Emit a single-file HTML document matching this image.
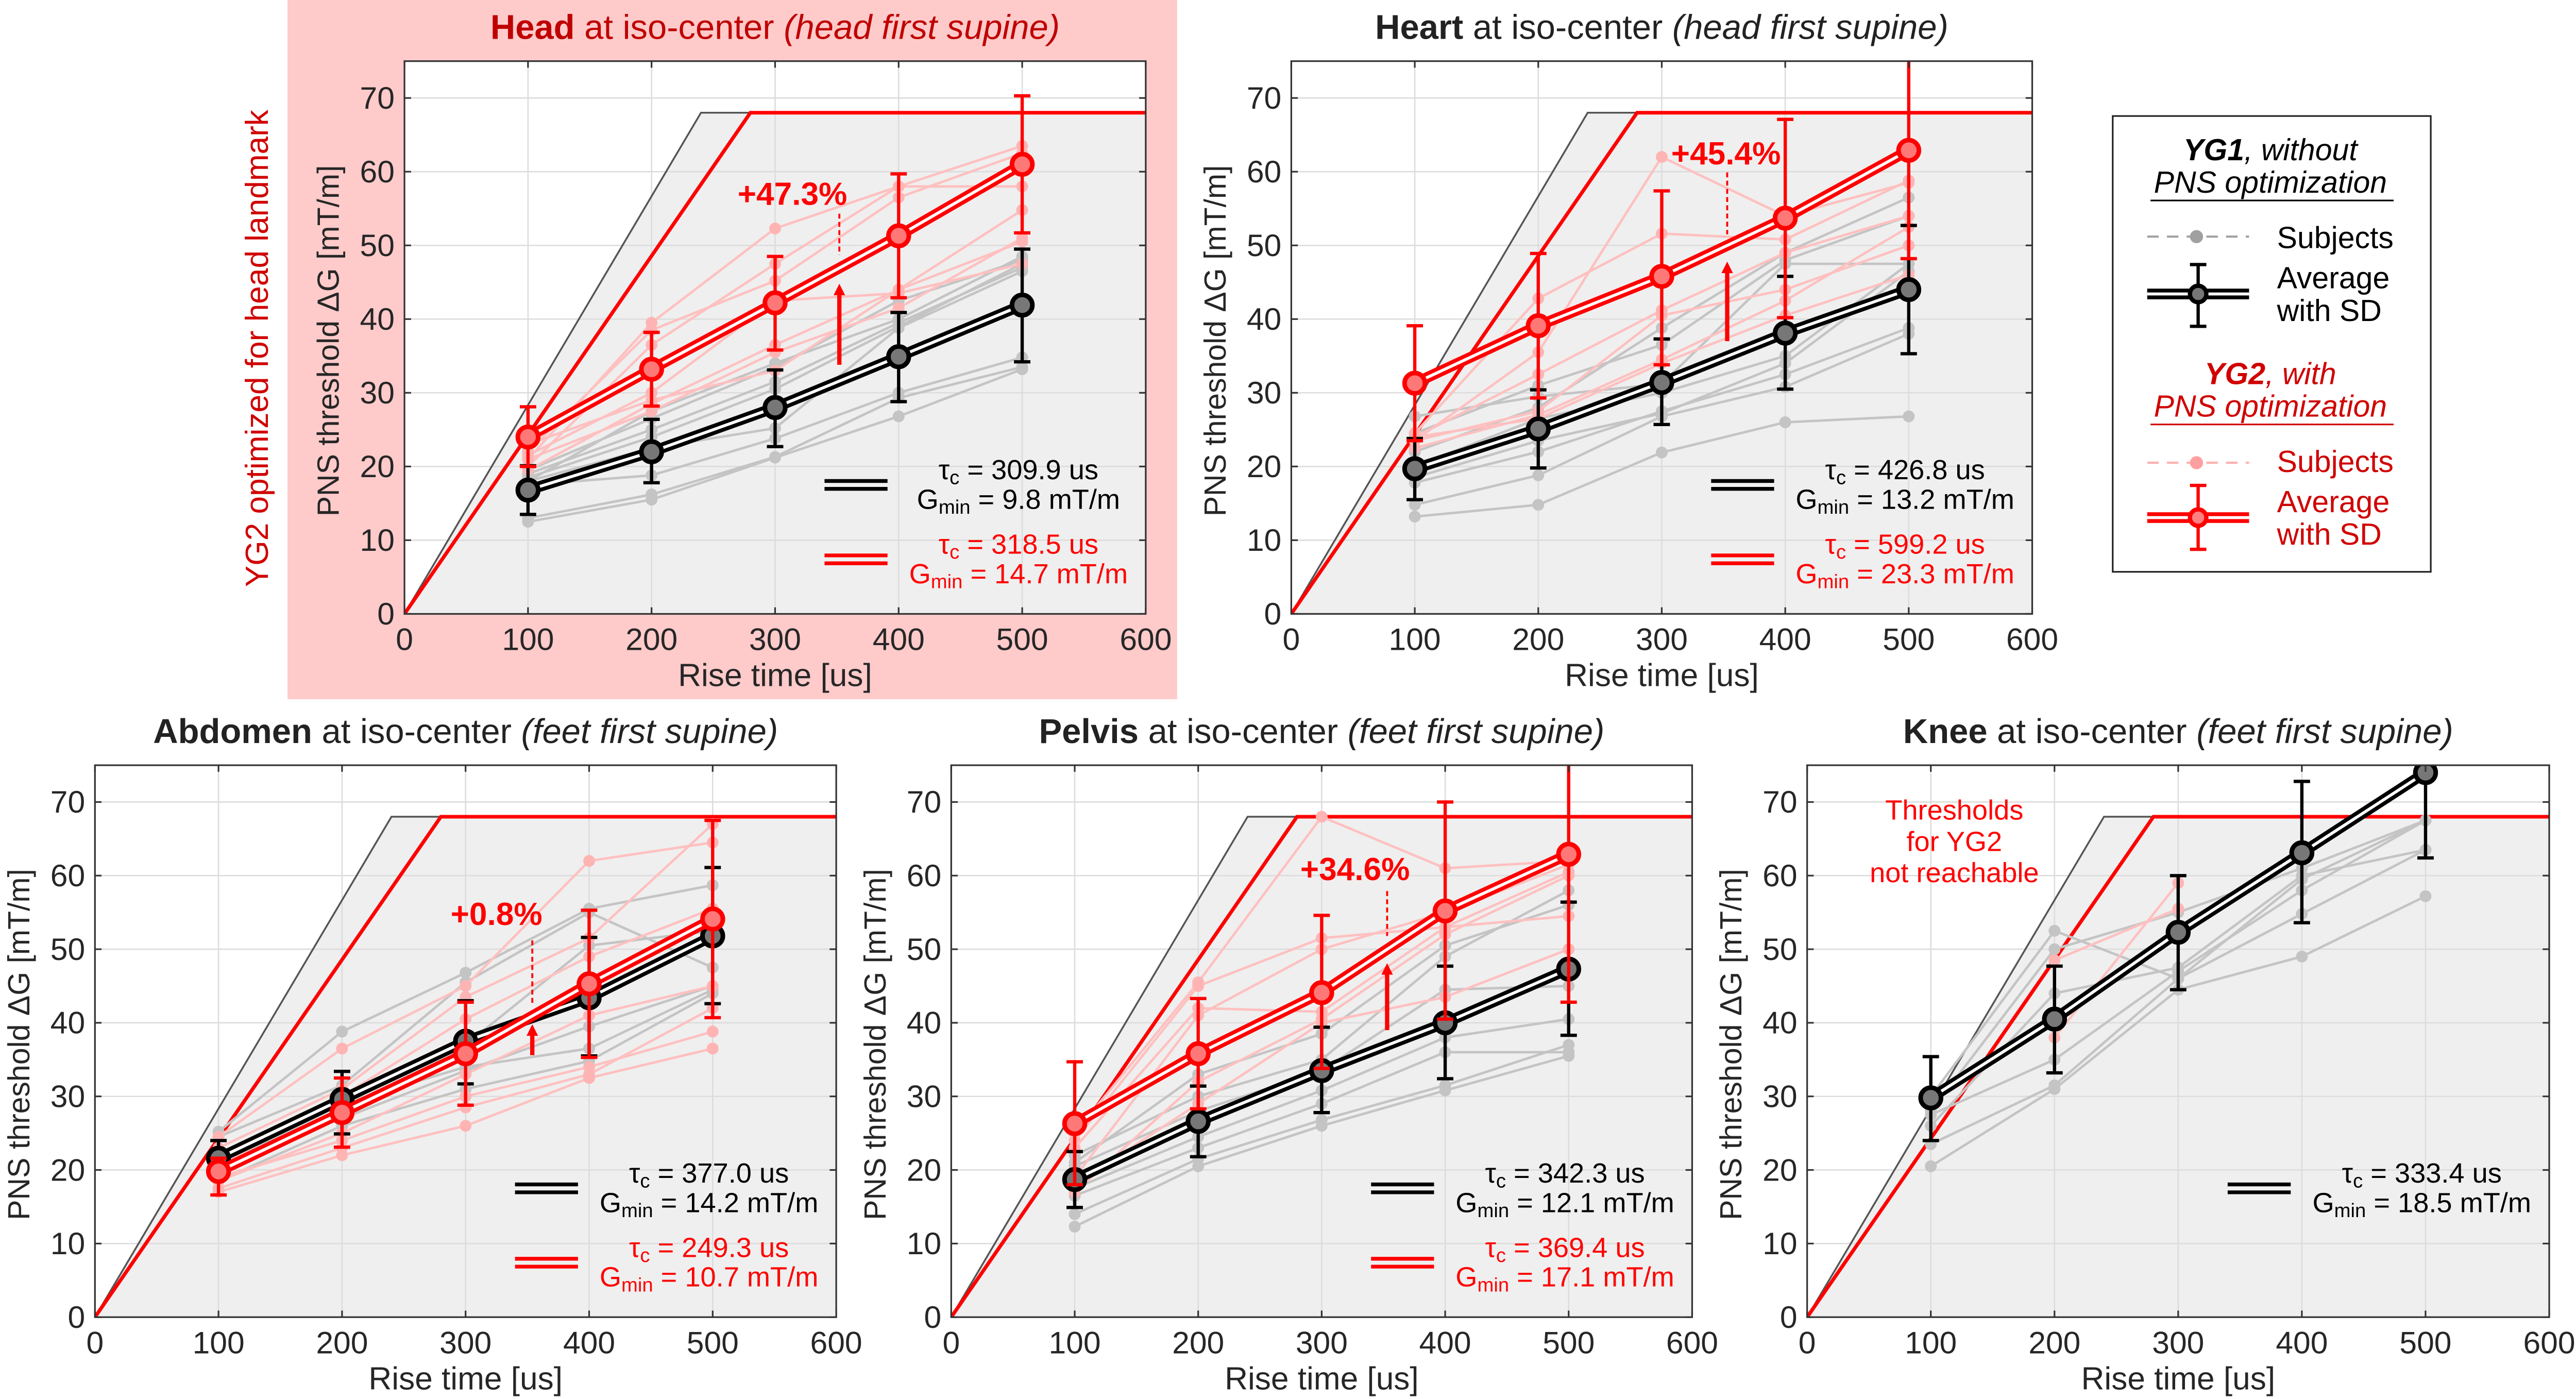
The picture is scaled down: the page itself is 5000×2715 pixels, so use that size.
<!DOCTYPE html>
<html><head><meta charset="utf-8"><title>PNS thresholds</title>
<style>
html,body{margin:0;padding:0;background:#fff;}
svg{display:block;}
text{font-family:"Liberation Sans Narrow","Liberation Sans",sans-serif;}
.reg{font-family:"Liberation Sans",sans-serif;}
</style></head>
<body>
<svg id="fig" xmlns="http://www.w3.org/2000/svg" width="5000" height="2715" viewBox="0 0 1568 851.4">
<rect x="0" y="0" width="1568" height="851.4" fill="#fff"/>
<rect x="175" y="0" width="541.5" height="425.5" fill="#fecaca"/>
<text class="reg" transform="translate(163,212) rotate(-90)" text-anchor="middle" font-size="19.5" fill="#d00000">YG2 optimized for head landmark</text>
<g id="legend">
<rect x="1286" y="70.6" width="193.6" height="277.4" fill="#fff" stroke="#222" stroke-width="1"/>
<text class="reg" x="1382" y="97.5" text-anchor="middle" font-size="18.5" font-style="italic"><tspan font-weight="bold">YG1</tspan>, without</text>
<text class="reg" x="1382" y="117.3" text-anchor="middle" font-size="18.5" font-style="italic">PNS optimization</text>
<line x1="1309" y1="122" x2="1457" y2="122" stroke="#000" stroke-width="1"/>
<line x1="1307" y1="144" x2="1369" y2="144" stroke="#a0a0a0" stroke-width="1.3" stroke-dasharray="7,5"/>
<circle cx="1337" cy="144" r="4" fill="#a0a0a0"/>
<text class="reg" x="1386" y="151" font-size="18.5">Subjects</text>
<line x1="1307" y1="178.9" x2="1369" y2="178.9" stroke="#000" stroke-width="6.5"/>
<line x1="1307" y1="178.9" x2="1369" y2="178.9" stroke="#fff" stroke-width="1.8"/>
<line x1="1338" y1="161" x2="1338" y2="198.6" stroke="#000" stroke-width="2"/>
<line x1="1333" y1="161" x2="1343" y2="161" stroke="#000" stroke-width="2"/>
<line x1="1333" y1="198.6" x2="1343" y2="198.6" stroke="#000" stroke-width="2"/>
<circle cx="1338" cy="178.9" r="5" fill="#777" stroke="#000" stroke-width="2.6"/>
<text class="reg" x="1386" y="175.5" font-size="18.5">Average</text>
<text class="reg" x="1386" y="195.3" font-size="18.5">with SD</text>
<text class="reg" x="1382" y="233.8" text-anchor="middle" font-size="18.5" font-style="italic" fill="#d00000"><tspan font-weight="bold">YG2</tspan>, with</text>
<text class="reg" x="1382" y="253.5" text-anchor="middle" font-size="18.5" font-style="italic" fill="#d00000">PNS optimization</text>
<line x1="1309" y1="258.3" x2="1457" y2="258.3" stroke="#d00000" stroke-width="1"/>
<line x1="1307" y1="281.6" x2="1369" y2="281.6" stroke="#ffb0b0" stroke-width="1.3" stroke-dasharray="7,5"/>
<circle cx="1337" cy="281.6" r="4" fill="#ffa0a0"/>
<text class="reg" x="1386" y="287.3" font-size="18.5" fill="#d00000">Subjects</text>
<line x1="1307" y1="315" x2="1369" y2="315" stroke="#f00" stroke-width="6.5"/>
<line x1="1307" y1="315" x2="1369" y2="315" stroke="#fff" stroke-width="1.8"/>
<line x1="1338" y1="295.4" x2="1338" y2="334.3" stroke="#f00" stroke-width="2"/>
<line x1="1333" y1="295.4" x2="1343" y2="295.4" stroke="#f00" stroke-width="2"/>
<line x1="1333" y1="334.3" x2="1343" y2="334.3" stroke="#f00" stroke-width="2"/>
<circle cx="1338" cy="315" r="5" fill="#ff8080" stroke="#f00" stroke-width="2.6"/>
<text class="reg" x="1386" y="311.7" font-size="18.5" fill="#d00000">Average</text>
<text class="reg" x="1386" y="331.5" font-size="18.5" fill="#d00000">with SD</text>
</g>
</svg>
<script>
// ---------- shared axis data ----------
const xTickValues = [0,100,200,300,400,500,600];
const yTickValues = [0,10,20,30,40,50,60,70];
const riseTimes = [100,200,300,400,500];
const stimLimitYG1 = [[0,0],[240,68],[280,68]];
const stimLimitYG2 = [[0,0],[280,68],[600,68]];

// ---------- Head ----------
const headYG1Mean = [16.8,22.0,28.0,34.9,41.9];
const headYG1Lo = [13.5,17.8,22.7,28.8,34.2];
const headYG1Hi = [20.1,26.4,33.1,40.9,49.5];
const headYG2Mean = [24.0,33.2,42.2,51.3,61.0];
const headYG2Lo = [20.0,28.2,35.8,42.9,51.7];
const headYG2Hi = [28.1,38.2,48.5,59.7,70.3];
const headYG1Subjects = [
 [12.5,15.5,21.2,26.8,33.2],[13,16.2,21.3,29.3,33.5],[17.5,18.8,23.8,30,34.8],[18,22.5,25.2,38.8,46.5],
 [18.5,24,30.5,39,47.5],[19,25,31.5,39.5,47],[19.5,26.5,33.5,42.5,48],[18,27.5,34,40,48.5]];
const headYG2Subjects = [
 [21,39.5,52.3,58,63.5],[22,38.5,45.2,56.5,62.5],[20,36.5,47.5,58,58],[21.5,30,42.5,43.5,47.5],
 [19.5,28.5,36.5,44,54.8],[21,27.5,35.5,41.5,51],[23,29,33,44,50.5]];

// ---------- Heart ----------
const heartYG1Mean = [19.7,25.1,31.4,38.1,44.0];
const heartYG1Lo = [15.5,19.8,25.7,30.5,35.3];
const heartYG1Hi = [23.8,30.4,37.3,45.8,52.7];
const heartYG2Mean = [31.3,39.1,45.8,53.7,62.9];
const heartYG2Lo = [23.5,29.3,33.8,40.2,48.2];
const heartYG2Hi = [39.1,48.9,57.4,67.1,85];
const heartYG1Subjects = [
 [13.2,14.8,21.9,26.0,26.8],[14.8,18.8,26.8,30.8,38.0],[17.8,22.0,27.5,32.5,38.8],[18.5,23.5,27.2,34.0,46.5],
 [20.0,26.5,30.0,35.0,47.5],[26.8,29.5,31.2,47.5,47.5],[24.5,31.0,36.5,48.0,54.0],[22.0,28.0,38.8,49.0,56.5]];
const heartYG2Subjects = [
 [24.5,42.8,51.6,50.8,58.8],[23.5,35.5,62.0,54.0,58.5],[24.0,32.5,41.2,49.0,54.0],
 [23.5,27.5,40.5,44.0,50.0],[22.5,27.0,34.5,42.5,52.5],[24.0,26.5,34.0,40.5,46.0]];

// ---------- Abdomen ----------
const abdomenYG1Mean = [21.6,29.6,37.5,43.4,51.8];
const abdomenYG1Lo = [19.5,24.9,31.7,35.5,42.6];
const abdomenYG1Hi = [24.0,33.4,43.0,51.6,61.1];
const abdomenYG2Mean = [19.8,27.8,35.8,45.3,54.1];
const abdomenYG2Lo = [16.6,23.1,28.8,35.3,40.7];
const abdomenYG2Hi = [21.6,32.5,42.8,55.3,67.5];
const abdomenYG1Subjects = [
 [25.2,38.8,46.8,55.5,58.7],[24.5,31.5,45.5,55.0,47.5],[22.0,30.0,37.0,50.5,52.5],
 [20.5,29.0,34.0,36.5,44.5],[21.0,27.0,33.5,39.5,45.0],[18.5,26.0,31.0,34.8,44.0]];
const abdomenYG2Subjects = [
 [24.5,36.5,45.0,62.0,64.5],[23.0,31.0,43.5,51.5,67.0],[20.5,30.0,40.5,49.0,55.5],[18.5,25.0,33.0,41.0,45.0],
 [17.5,23.0,28.5,33.0,42.0],[17.0,22.0,26.0,32.5,36.5],[19.0,24.0,30.0,34.0,38.8]];

// ---------- Pelvis ----------
const pelvisYG1Mean = [18.7,26.6,33.5,40.0,47.3];
const pelvisYG1Lo = [14.9,21.8,27.8,32.4,38.3];
const pelvisYG1Hi = [22.5,31.4,39.4,47.7,56.4];
const pelvisYG2Mean = [26.3,35.8,44.1,55.2,62.9];
const pelvisYG2Lo = [18.0,28.3,33.8,40.5,42.8];
const pelvisYG2Hi = [34.7,43.3,54.6,70.0,83];
const pelvisYG1Subjects = [
 [12.3,20.5,26.0,30.8,35.5],[14.0,21.5,26.8,31.5,37.0],[16.5,23.0,29.0,36.0,36.0],[17.5,24.5,30.8,38.0,40.5],
 [20.5,28.0,33.5,44.5,45.0],[22.0,30.0,35.0,49.0,58.0],[21.0,33.0,38.5,50.5,56.0]];
const pelvisYG2Subjects = [
 [25.0,45.5,68.0,61.0,62.0],[24.0,45.0,51.5,53.0,54.5],[23.0,42.0,41.5,53.0,60.5],
 [19.0,41.0,50.0,55.0,61.5],[18.0,29.0,40.0,43.5,50.0],[17.0,32.0,40.5,52.0,60.0]];

// ---------- Knee ----------
const kneeYG1Mean = [29.8,40.5,52.3,63.1,74.0];
const kneeYG1Lo = [24.0,33.2,44.5,53.6,62.4];
const kneeYG1Hi = [35.4,47.7,60.0,72.8,80];
const kneeYG1Subjects = [
 [20.5,31.0,44.5,49.0,57.2],[23.5,31.5,46.0,54.8,63.5],[27.5,35.0,47.0,58.0,67.5],
 [26.0,44.0,47.5,60.0,63.5],[28.0,50.0,55.0,61.0,67.5],[30.0,52.5,46.0,59.5,67.5]];
const kneeYG2Subjects = [[null,48.5,55.5,null,null],[null,38.0,59.0,null,null]];

// ---------- tau / Gmin printed values ----------
const headTau = ["309.9","9.8","318.5","14.7"];
const heartTau = ["426.8","13.2","599.2","23.3"];
const abdomenTau = ["377.0","14.2","249.3","10.7"];
const pelvisTau = ["342.3","12.1","369.4","17.1"];
const kneeTau = ["333.4","18.5"];
const percentLabels = ["+47.3%","+45.4%","+0.8%","+34.6%"];

const NS = 'http://www.w3.org/2000/svg';
const svg = document.getElementById('fig');
const legendNode = document.getElementById('legend');
function mk(tag, attrs, parent){
  const e = document.createElementNS(NS, tag);
  for (const k in attrs) e.setAttribute(k, attrs[k]);
  parent.appendChild(e);
  return e;
}

function drawPanel(cfg){
  const {key, x0, x1, yt, yb} = cfg;
  const X = v => x0 + (x1 - x0) * v / 600;
  const Y = v => yb - (yb - yt) * v / 75;
  const g = mk('g', {}, svg);
  svg.insertBefore(g, legendNode);
  
  

  const clipId = 'clip-' + key;
  const cp = mk('clipPath', {id: clipId}, g);
  mk('rect', {x: x0, y: yt, width: x1 - x0, height: yb - yt}, cp);

  const bg = mk('rect', {x: x0, y: yt, width: x1 - x0, height: yb - yt, fill: '#fff'}, g);
  
  

  const shade = mk('polygon', {points: [[0,0],[240,68],[600,68],[600,0]].map(p => X(p[0]) + ',' + Y(p[1])).join(' '), fill: '#efefef'}, g);
  
  

  xTickValues.forEach(v => {
    if (v === 0 || v === 600) return;
    const l = mk('line', {x1: X(v), x2: X(v), y1: yt, y2: yb, stroke: '#dcdcdc', 'stroke-width': 0.8}, g);
    
    
  });
  yTickValues.forEach(v => {
    if (v === 0) return;
    const l = mk('line', {x1: x0, x2: x1, y1: Y(v), y2: Y(v), stroke: '#dcdcdc', 'stroke-width': 0.8}, g);
    
    
  });

  const plot = mk('g', {'clip-path': 'url(#' + clipId + ')'}, g);
  
  

  const s1 = mk('polyline', {points: stimLimitYG1.map(p => X(p[0]) + ',' + Y(p[1])).join(' '), fill: 'none', stroke: '#555', 'stroke-width': 1.1}, plot);
  
  
  const s2 = mk('polyline', {points: stimLimitYG2.map(p => X(p[0]) + ',' + Y(p[1])).join(' '), fill: 'none', stroke: '#f00', 'stroke-width': 2.2}, plot);
  
  

  function subjects(arr, lineColor, dotColor, label){
    arr.forEach((row, i) => {
      for (let j = 0; j < row.length - 1; j++) {
        if (row[j] == null || row[j+1] == null) continue;
        const l = mk('line', {x1: X(riseTimes[j]), y1: Y(row[j]), x2: X(riseTimes[j+1]), y2: Y(row[j+1]), stroke: lineColor, 'stroke-width': 1.5}, plot);
        
        
      }
      row.forEach((v, j) => {
        if (v == null) return;
        const c = mk('circle', {cx: X(riseTimes[j]), cy: Y(v), r: 3.6, fill: dotColor}, plot);
        
        
      });
    });
  }
  subjects(cfg.g1s, '#c4c4c4', '#c4c4c4', 'yg1');
  if (cfg.g2s) subjects(cfg.g2s, '#ffc0c0', '#ffb4b4', 'yg2');

  function average(mean, lo, hi, col, fillc, label){
    const pts = mean.map((v, j) => X(riseTimes[j]) + ',' + Y(v)).join(' ');
    const o = mk('polyline', {points: pts, fill: 'none', stroke: col, 'stroke-width': 6.5, 'stroke-linejoin': 'round'}, plot);
    
    
    const w = mk('polyline', {points: pts, fill: 'none', stroke: '#fff', 'stroke-width': 1.8}, plot);
    
    
    mean.forEach((v, j) => {
      const x = X(riseTimes[j]);
      const e = mk('line', {x1: x, x2: x, y1: Y(lo[j]), y2: Y(hi[j]), stroke: col, 'stroke-width': 2}, plot);
      
      
      [lo[j], hi[j]].forEach(b => {
        const c = mk('line', {x1: x - 5, x2: x + 5, y1: Y(b), y2: Y(b), stroke: col, 'stroke-width': 2}, plot);
        
        
      });
    });
    mean.forEach((v, j) => {
      const m = mk('circle', {cx: X(riseTimes[j]), cy: Y(v), r: 6.2, fill: fillc, stroke: col, 'stroke-width': 2.8}, plot);
      
      
    });
  }
  average(cfg.g1m, cfg.g1lo, cfg.g1hi, '#000', '#777', 'yg1');
  if (cfg.g2m) average(cfg.g2m, cfg.g2lo, cfg.g2hi, '#f00', '#ff7878', 'yg2');

  if (cfg.pct) {
    const a = cfg.anno;
    const t = mk('text', {x: X(a[0]), y: Y(a[1]), 'text-anchor': 'middle', 'font-size': 19.5, 'font-weight': 'bold', fill: '#f00'}, g);
    t.textContent = cfg.pct;
    
    
    const d = mk('line', {x1: X(a[2]), x2: X(a[2]), y1: Y(a[3]), y2: Y(a[4]), stroke: '#f00', 'stroke-width': 1.2, 'stroke-dasharray': '3,2'}, g);
    
    
    const ay0 = Y(a[5]), ay1 = Y(a[6]);
    const ar = mk('line', {x1: X(a[2]), x2: X(a[2]), y1: ay0, y2: ay1 + 6, stroke: '#f00', 'stroke-width': 2.6}, g);
    
    
    const ah = mk('polygon', {points: (X(a[2]) - 3.5) + ',' + (ay1 + 7) + ' ' + (X(a[2]) + 3.5) + ',' + (ay1 + 7) + ' ' + X(a[2]) + ',' + ay1, fill: '#f00'}, g);
    
    
  }

  function tauBlock(vals, yLine, col, label){
    [yLine - 2.4, yLine + 2.4].forEach(yy => {
      const l = mk('line', {x1: X(340), x2: X(391), y1: yy, y2: yy, stroke: col, 'stroke-width': 2.3}, g);
      
      
    });
    const t1 = mk('text', {x: X(497), y: yLine - 3.5, 'text-anchor': 'middle', 'font-size': 17, fill: col}, g);
    t1.innerHTML = 'τ<tspan font-size="12" dy="3">c</tspan><tspan dy="-3"> = ' + vals[0] + ' us</tspan>';
    
    
    const t2 = mk('text', {x: X(497), y: yLine + 14.5, 'text-anchor': 'middle', 'font-size': 17, fill: col}, g);
    t2.innerHTML = 'G<tspan font-size="12" dy="3">min</tspan><tspan dy="-3"> = ' + vals[1] + ' mT/m</tspan>';
    
    
  }
  tauBlock(cfg.tau.slice(0, 2), Y(17.5), '#000', 'yg1');
  if (cfg.tau.length > 2) tauBlock(cfg.tau.slice(2, 4), Y(7.4), '#f00', 'yg2');

  const fr = mk('rect', {x: x0, y: yt, width: x1 - x0, height: yb - yt, fill: 'none', stroke: '#333', 'stroke-width': 1}, g);
  
  
  xTickValues.forEach(v => {
    const tk = mk('line', {x1: X(v), x2: X(v), y1: yb, y2: yb - 4, stroke: '#333', 'stroke-width': 1}, g);
    
    
    const tk2 = mk('line', {x1: X(v), x2: X(v), y1: yt, y2: yt + 4, stroke: '#333', 'stroke-width': 1}, g);
    
    
    const t = mk('text', {x: X(v), y: yb + 22, 'text-anchor': 'middle', 'font-size': 19, fill: '#262626'}, g);
    t.textContent = v;
    
    
  });
  yTickValues.forEach(v => {
    const tk = mk('line', {x1: x0, x2: x0 + 4, y1: Y(v), y2: Y(v), stroke: '#333', 'stroke-width': 1}, g);
    
    
    const tk2 = mk('line', {x1: x1, x2: x1 - 4, y1: Y(v), y2: Y(v), stroke: '#333', 'stroke-width': 1}, g);
    
    
    const t = mk('text', {x: x0 - 6, y: Y(v) + 6.5, 'text-anchor': 'end', 'font-size': 19, fill: '#262626'}, g);
    t.textContent = v;
    
    
  });
  const xl = mk('text', {x: (x0 + x1) / 2, y: yb + 44, 'text-anchor': 'middle', 'font-size': 19.5, fill: '#262626'}, g);
  xl.textContent = 'Rise time [us]';
  
  
  const yl = mk('text', {transform: 'translate(' + (x0 - 40) + ',' + ((yt + yb) / 2 + 2) + ') rotate(-90)', 'text-anchor': 'middle', 'font-size': 18.5, fill: '#262626', class: 'reg'}, g);
  yl.textContent = 'PNS threshold ΔG [mT/m]';
  
  

  const ti = mk('text', {x: (x0 + x1) / 2, y: yt - 13.5, 'text-anchor': 'middle', 'font-size': 21, fill: cfg.tcol}, g);
  ti.innerHTML = '<tspan font-weight="bold">' + cfg.tb + '</tspan> at iso-center <tspan font-style="italic">(' + cfg.ti + ')</tspan>';
  
  

  if (cfg.note) {
    cfg.note.forEach((line, i) => {
      const t = mk('text', {x: X(119), y: Y(67.6 - i * 4.25), 'text-anchor': 'middle', 'font-size': 17, fill: '#f00'}, g);
      t.textContent = line;
      
      
    });
  }
}

drawPanel({key:'head', x0:246.2, x1:697.4, yt:37.2, yb:373.6, tb:'Head', ti:'head first supine', tcol:'#c00000',
  g1m:headYG1Mean, g1lo:headYG1Lo, g1hi:headYG1Hi, g1s:headYG1Subjects,
  g2m:headYG2Mean, g2lo:headYG2Lo, g2hi:headYG2Hi, g2s:headYG2Subjects,
  pct:percentLabels[0], anno:[314,55.5,352,54.3,48.7,33.8,44.8], tau:headTau});
drawPanel({key:'heart', x0:786, x1:1237, yt:37.2, yb:373.6, tb:'Heart', ti:'head first supine', tcol:'#222',
  g1m:heartYG1Mean, g1lo:heartYG1Lo, g1hi:heartYG1Hi, g1s:heartYG1Subjects,
  g2m:heartYG2Mean, g2lo:heartYG2Lo, g2hi:heartYG2Hi, g2s:heartYG2Subjects,
  pct:percentLabels[1], anno:[352,61,353,59.9,51.5,37,47.8], tau:heartTau});
drawPanel({key:'abdomen', x0:57.8, x1:509, yt:465.7, yb:801.6, tb:'Abdomen', ti:'feet first supine', tcol:'#222',
  g1m:abdomenYG1Mean, g1lo:abdomenYG1Lo, g1hi:abdomenYG1Hi, g1s:abdomenYG1Subjects,
  g2m:abdomenYG2Mean, g2lo:abdomenYG2Lo, g2hi:abdomenYG2Hi, g2s:abdomenYG2Subjects,
  pct:percentLabels[2], anno:[325,53.3,354,51.2,42.7,35.6,39.8], tau:abdomenTau});
drawPanel({key:'pelvis', x0:579, x1:1030, yt:465.7, yb:801.6, tb:'Pelvis', ti:'feet first supine', tcol:'#222',
  g1m:pelvisYG1Mean, g1lo:pelvisYG1Lo, g1hi:pelvisYG1Hi, g1s:pelvisYG1Subjects,
  g2m:pelvisYG2Mean, g2lo:pelvisYG2Lo, g2hi:pelvisYG2Hi, g2s:pelvisYG2Subjects,
  pct:percentLabels[3], anno:[327,59.4,353,57.9,51.8,39,48.1], tau:pelvisTau});
drawPanel({key:'knee', x0:1100, x1:1551.7, yt:465.7, yb:801.6, tb:'Knee', ti:'feet first supine', tcol:'#222',
  g1m:kneeYG1Mean, g1lo:kneeYG1Lo, g1hi:kneeYG1Hi, g1s:kneeYG1Subjects,
  g2s:kneeYG2Subjects, tau:kneeTau, note:['Thresholds','for YG2','not reachable']});
</script>
</body></html>
